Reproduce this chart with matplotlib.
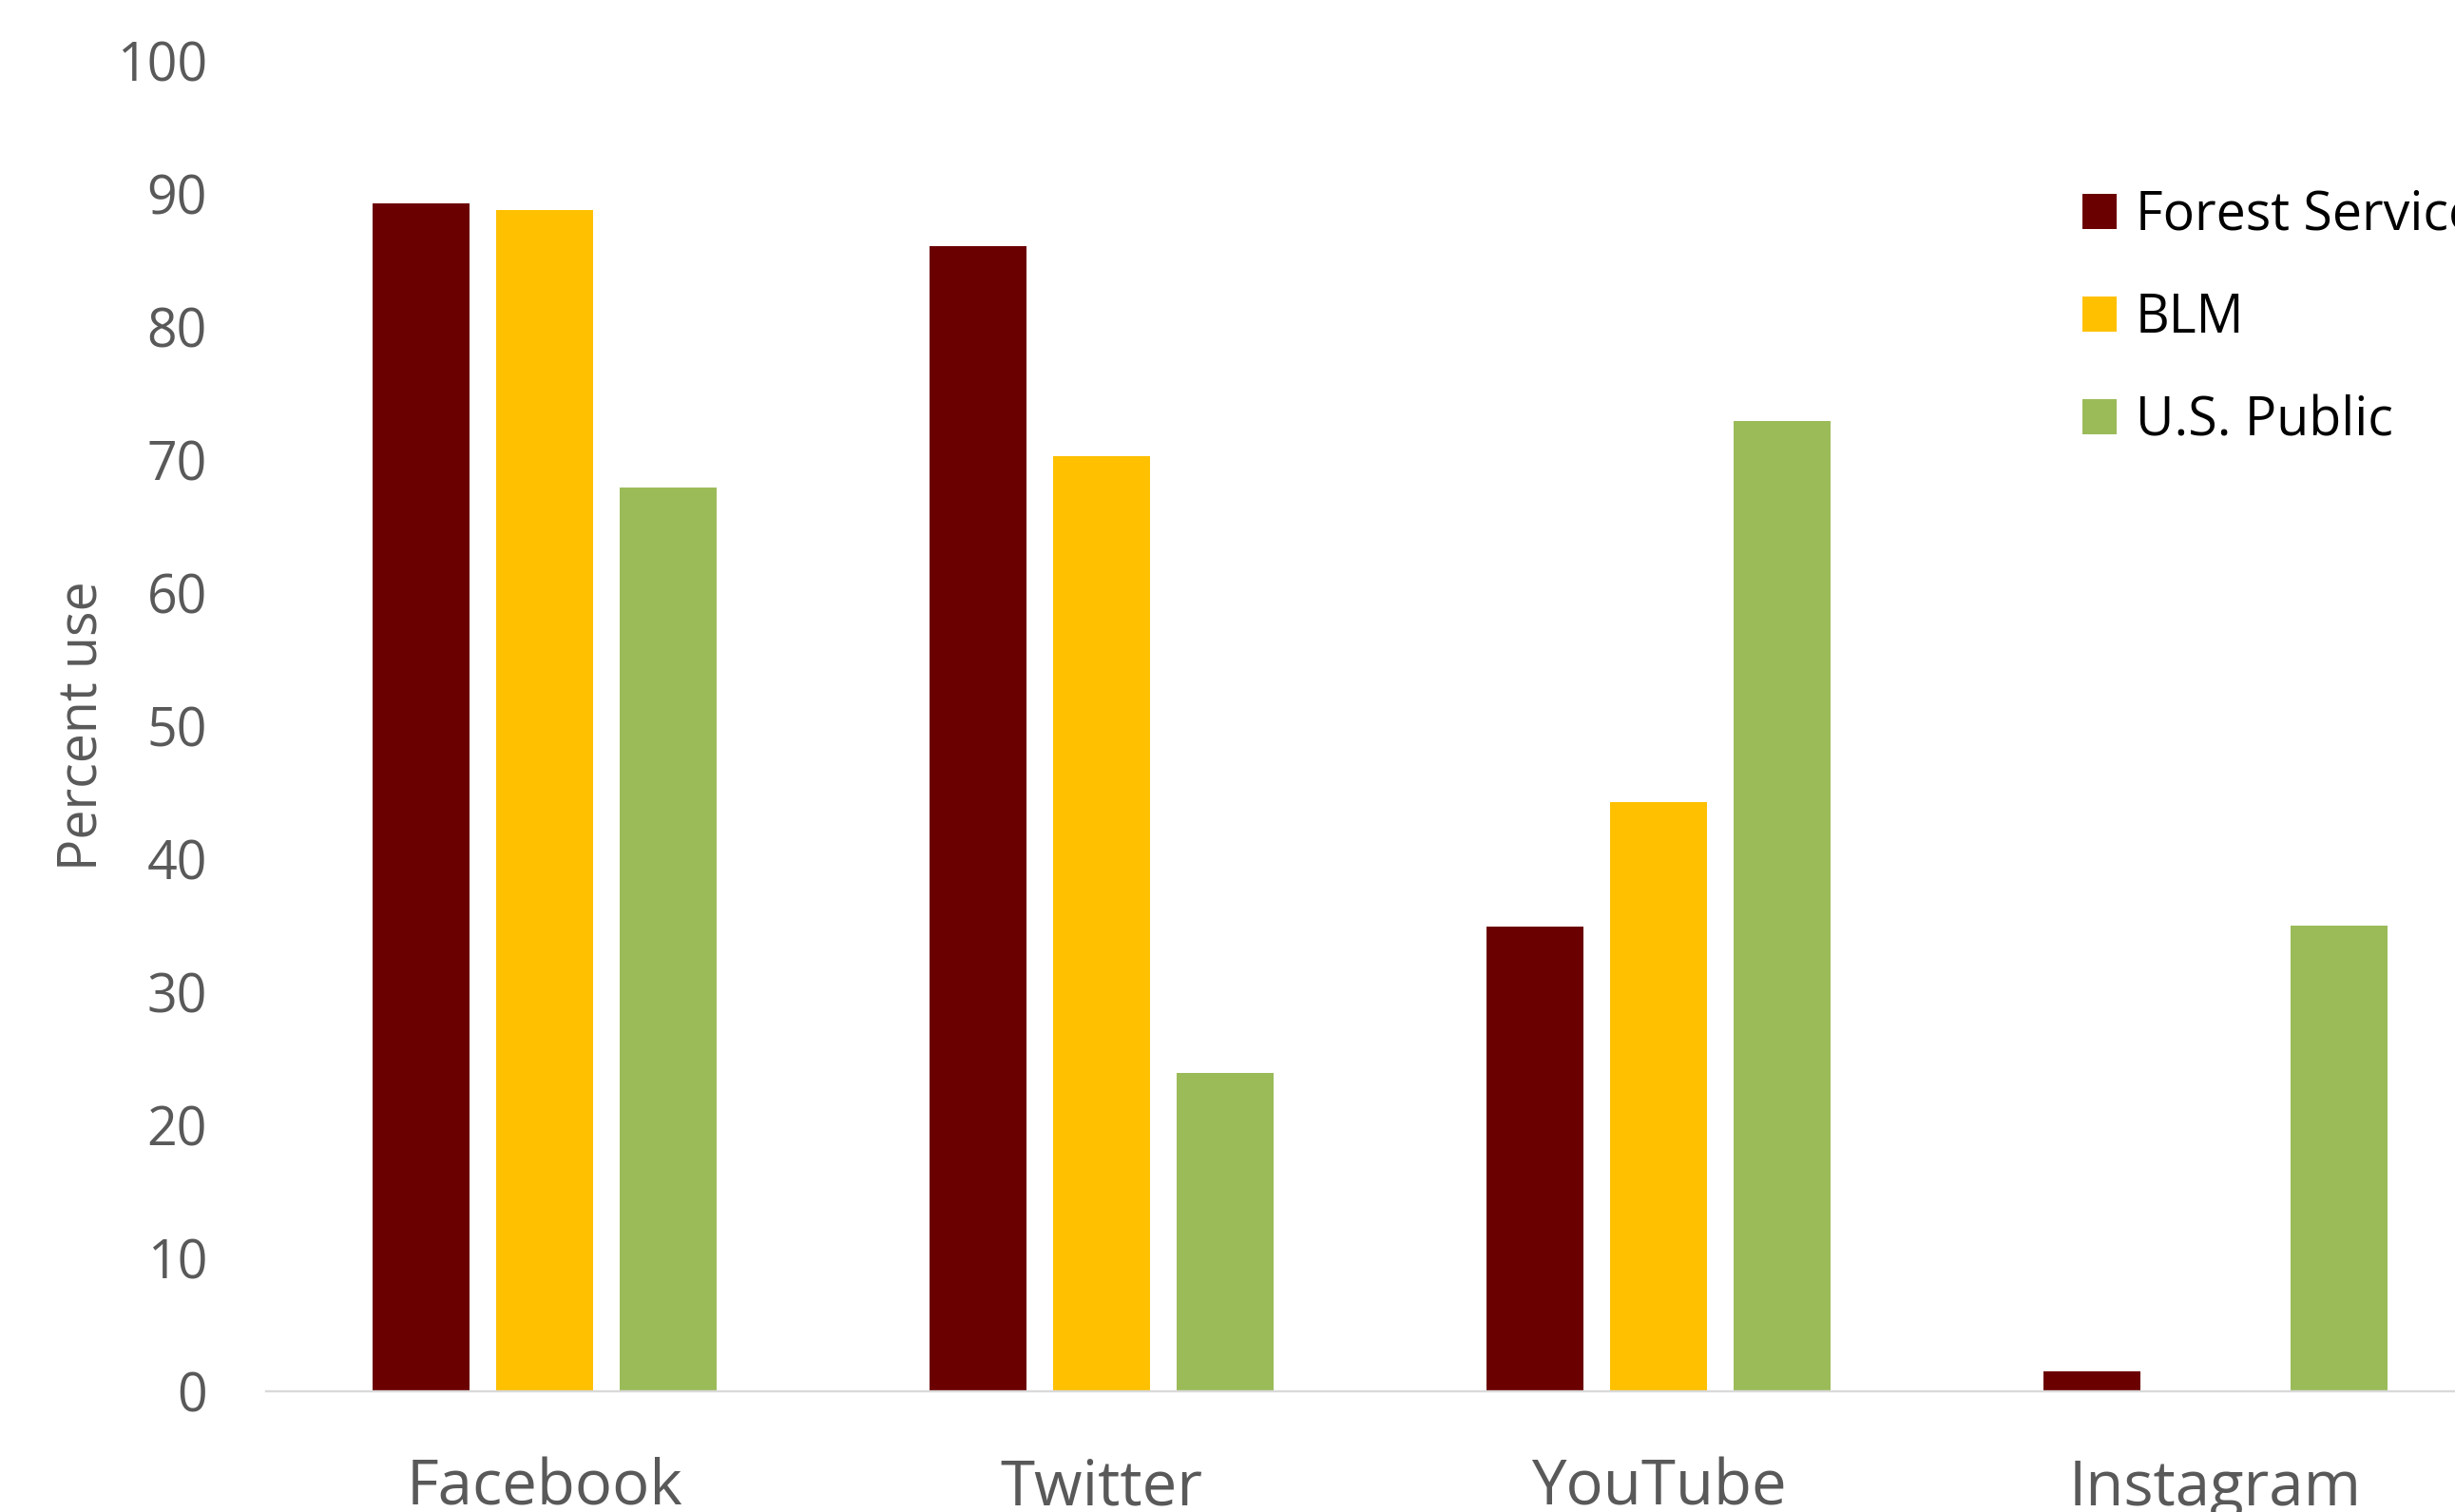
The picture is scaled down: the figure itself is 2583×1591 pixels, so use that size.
import numpy as np
import matplotlib
matplotlib.use("Agg")
import matplotlib.pyplot as plt
from matplotlib.patches import Patch

# data
categories = ["Facebook", "Twitter", "YouTube", "Instagram"]
series_names = ["Forest Service", "BLM", "U.S. Public"]
forest_service = [89.3, 86.1, 34.9, 1.5]
blm = [88.8, 70.3, 44.3, 0.0]
us_public = [67.9, 23.9, 72.9, 35.0]
y_ticks = [0, 10, 20, 30, 40, 50, 60, 70, 80, 90, 100]

colors = ["#6B0000", "#FFC000", "#9BBB59"]
text_grey = "#595959"

plt.rcParams["font.family"] = ["Open Sans", "DejaVu Sans"]

W, H = 2583, 1591
fig = plt.figure(figsize=(W / 100, H / 100), dpi=100)
fig.patch.set_facecolor("white")

# plot area in pixels: left 280, baseline 1464, top (100) 64, category width 586
ax = fig.add_axes([280 / W, 1 - 1464 / H, 4 * 586 / W, 1400 / H])

x = np.arange(len(categories))
bar_w = 102 / 586
step = 130 / 586
for i, (vals, col, name) in enumerate(zip([forest_service, blm, us_public], colors, series_names)):
    ax.bar(x + (i - 1) * step, vals, width=bar_w, color=col, label=name, linewidth=0)

ax.set_xlim(-0.5, len(categories) - 0.5)
ax.set_ylim(0, 100)
ax.set_yticks(y_ticks)
ax.set_yticklabels([str(t) for t in y_ticks], fontsize=40, color=text_grey)
ax.tick_params(axis="y", length=0, pad=44.6)

# category labels sit low and run off the bottom edge, as in the reference
ax.set_xticks(x)
ax.set_xticklabels(categories, fontsize=47, color=text_grey)
ax.tick_params(axis="x", length=0, pad=86.4)
for lbl in ax.get_xticklabels():
    lbl.set_va("baseline")

for side in ["left", "right", "top"]:
    ax.spines[side].set_visible(False)
ax.spines["bottom"].set_color("#D9D9D9")
ax.spines["bottom"].set_linewidth(1.7)
ax.spines["bottom"].set_clip_on(False)

fig.text(102 / W, 1 - 764 / H, "Percent use", rotation=90, rotation_mode="anchor",
         ha="center", va="baseline", fontsize=40, color=text_grey)

handles = [Patch(facecolor=c, edgecolor="none") for c in colors]
fs = 40 * 100 / 72
leg = fig.legend(handles, series_names, loc="upper left",
                 bbox_to_anchor=(2191 / W, 1 - 199 / H), bbox_transform=fig.transFigure,
                 frameon=False, fontsize=40, borderpad=0, borderaxespad=0,
                 handlelength=36 / fs, handleheight=36 / fs, handletextpad=20 / fs,
                 labelspacing=0.92)
for t in leg.get_texts():
    t.set_color("black")

fig.savefig("out.png", dpi=100, facecolor="white")
